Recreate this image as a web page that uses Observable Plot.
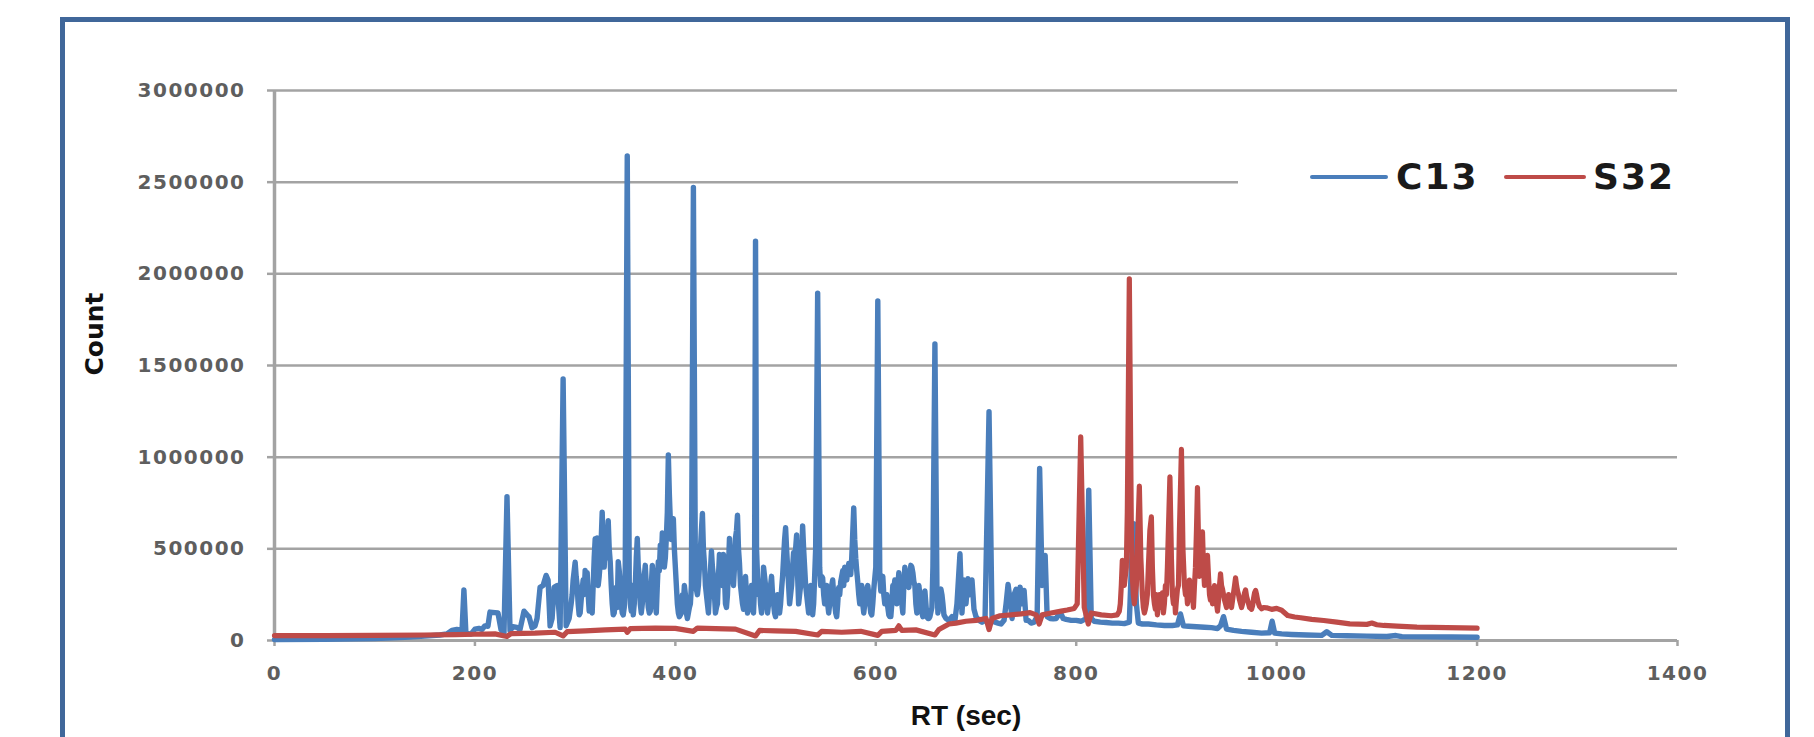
<!DOCTYPE html>
<html>
<head>
<meta charset="utf-8">
<script src="https://cdn.jsdelivr.net/npm/d3@7"></script>
<script src="https://cdn.jsdelivr.net/npm/@observablehq/plot@0.6"></script>
<style>
  html, body { margin: 0; padding: 0; width: 1814px; height: 737px; overflow: hidden; background: #fff; }
  #frame { position: absolute; left: 60px; top: 17px; width: 1720px; height: 800px;
           border: 5px solid #40679a; border-bottom: none; box-sizing: content-box; }
  #chart { position: absolute; left: 0; top: 0; }
  #chart g[aria-label="y-axis tick label"] text,
  #chart g[aria-label="x-axis tick label"] text { letter-spacing: 1.5px; }
  #legend { position: absolute; left: 1238px; top: 120px; width: 445px; height: 110px; background: #fff; }
  .sw { position: absolute; height: 4px; border-radius: 2px; }
  .lt { position: absolute; font-family: "DejaVu Sans", sans-serif; font-weight: bold; font-size: 36px;
        letter-spacing: 2px; color: #1a1a1a; line-height: 36px; }
</style>
</head>
<body>
<div id="frame"></div>
<div id="chart"></div>
<div id="legend">
  <div class="sw" style="left:72px; top:55px; width:78px; background:#4a7ebb;"></div>
  <div class="lt" style="left:158px; top:39px;">C13</div>
  <div class="sw" style="left:266px; top:55px; width:82px; background:#be4b48;"></div>
  <div class="lt" style="left:355px; top:39px;">S32</div>
</div>
<script>
// ---- tick labels ----
const xTicks = [0, 200, 400, 600, 800, 1000, 1200, 1400];
const yTicks = [0, 500000, 1000000, 1500000, 2000000, 2500000, 3000000];

// ---- C13 series: retention time (sec) ----
const rtC13 = [
  0,50,100,130,150,165,172,177,182,185,187,189,191,196,200,204,207,210,213,215,220,223,226,229,232,235,238,242,245,249,252,254,257,260,262,265,268,271,273,275,277,279,282,285,288,291,294,
  296,297,298,300,301,302,303,304,305,306,307,308,309,310,311,312,313,314,315,316,317,318,319,320,321,322,323,324,325,326,327,328,329,330,331,332,333,334,335,336,337,338,339,340,341,342,343,344,345,346,347,348,349,350,352,354,355,356,357,358,359,360,361,362,363,364,365,366,367,368,369,370,371,372,373,374,375,376,377,378,379,380,381,382,383,384,385,386,387,388,389,390,391,392,393,394,395,396,397,398,399,400,
  401,402,403,404,405,406,407,408,409,410,411,412,413,414,415,416,418,420,421,422,423,424,425,426,427,428,429,430,431,432,433,434,435,436,437,438,439,440,441,442,443,444,445,446,447,448,449,450,451,452,453,454,455,456,457,458,459,460,461,462,463,464,465,466,467,468,469,470,471,472,473,474,475,476,477,478,479,480,481,482,483,484,485,486,487,488,489,490,491,492,493,494,495,496,497,498,499,500,
  501,502,503,504,505,506,507,508,509,510,511,512,513,514,515,516,517,518,519,520,521,522,523,524,525,526,527,528,529,530,531,532,533,534,535,536,537,538,539,540,542,544,545,546,547,548,549,550,551,552,553,554,555,556,557,558,559,560,561,562,563,564,565,566,567,568,569,570,571,572,573,574,575,576,578,579,580,581,582,583,584,585,586,587,588,589,590,591,592,593,594,595,596,597,598,600,
  602,604,605,606,607,608,609,610,611,612,613,614,615,616,617,618,619,620,621,622,623,624,625,626,627,628,629,630,631,632,633,634,635,636,637,638,639,640,641,642,643,644,645,646,647,648,649,650,651,652,653,654,656,657,659,661,662,663,664,665,666,667,668,669,670,
  673,676,679,681,684,686,688,690,692,694,696,698,700,703,706,709,713,716,719,722,725,728,730,732,734,736,738,740,742,744,746,748,750,752,755,758,761,763.5,766,769,771,774,777,780,784,787,790,795,800,805,810,812.5,815,818,824,830,836,842,848,853,855,857.5,860,862,866,872,880,888,896,901,904,907,912,920,928,935,941,944,947,950,957,965,975,985,993,995.5,998,1005,1015,1030,1045,1050,1055,1070,1090,1110,1119,1125,1150,1175,1200];
// ---- C13 series: count ----
const countC13 = [
  5000,6000,10000,18000,24000,30000,36000,55000,60000,58000,40000,276000,40000,35000,62000,66000,60000,80000,78000,155000,152000,150000,60000,40000,785000,55000,75000,72000,60000,160000,140000,130000,70000,80000,120000,290000,300000,355000,330000,80000,120000,290000,300000,70000,1426000,80000,120000,
  200000,250000,330000,427000,350000,300000,200000,140000,150000,220000,280000,330000,250000,382000,300000,370000,250000,160000,160000,200000,150000,300000,450000,555000,400000,560000,300000,350000,420000,550000,700000,500000,400000,600000,450000,550000,654000,500000,430000,300000,200000,140000,150000,220000,290000,180000,430000,380000,300000,200000,150000,140000,180000,400000,2643000,300000,200000,160000,300000,140000,200000,300000,450000,557000,400000,350000,200000,150000,200000,300000,350000,410000,300000,250000,180000,150000,160000,300000,410000,350000,280000,200000,150000,300000,430000,380000,520000,450000,586000,500000,400000,450000,560000,700000,1012000,800000,650000,550000,600000,664000,500000,400000,
  300000,200000,150000,130000,140000,150000,250000,200000,300000,250000,150000,120000,150000,180000,200000,300000,2471000,350000,280000,250000,300000,400000,500000,600000,693000,500000,420000,300000,250000,200000,150000,250000,380000,488000,400000,350000,250000,150000,180000,200000,350000,469000,380000,420000,300000,470000,350000,200000,180000,250000,400000,557000,450000,400000,350000,300000,400000,560000,600000,683000,500000,420000,300000,250000,200000,170000,250000,350000,250000,150000,170000,200000,250000,300000,200000,150000,300000,2178000,500000,350000,250000,300000,200000,150000,250000,400000,350000,300000,200000,150000,200000,280000,300000,350000,250000,200000,150000,130000,
  200000,250000,200000,150000,200000,280000,350000,450000,550000,615000,500000,400000,300000,200000,250000,300000,400000,480000,400000,500000,576000,350000,200000,250000,300000,450000,625000,500000,400000,300000,250000,200000,150000,200000,300000,200000,140000,200000,350000,500000,1895000,400000,300000,350000,340000,250000,200000,250000,300000,200000,150000,200000,250000,300000,330000,250000,200000,150000,130000,200000,290000,250000,320000,350000,380000,300000,400000,350000,330000,380000,420000,400000,360000,450000,723000,550000,449000,380000,320000,250000,200000,250000,300000,200000,150000,200000,250000,280000,300000,250000,200000,150000,140000,200000,280000,400000,
  1852000,350000,270000,300000,350000,250000,200000,230000,250000,180000,140000,130000,130000,200000,300000,280000,330000,250000,200000,300000,370000,300000,330000,200000,150000,300000,400000,350000,380000,300000,290000,350000,410000,400000,370000,320000,300000,200000,150000,200000,300000,250000,180000,150000,130000,200000,270000,200000,130000,120000,120000,130000,180000,400000,1617000,300000,150000,200000,270000,280000,250000,200000,140000,130000,120000,
  110000,130000,110000,200000,473000,150000,330000,200000,337000,250000,330000,170000,130000,110000,100000,110000,1248000,120000,100000,95000,90000,110000,200000,306000,220000,120000,250000,280000,150000,291000,200000,273000,110000,110000,95000,100000,130000,938000,300000,464000,130000,120000,118000,120000,155000,120000,115000,110000,110000,105000,120000,820000,120000,105000,100000,98000,95000,95000,92000,100000,400000,637000,200000,95000,90000,90000,85000,82000,82000,85000,145000,80000,78000,75000,72000,70000,65000,80000,130000,62000,55000,50000,45000,40000,42000,105000,40000,36000,33000,30000,28000,48000,28000,26000,24000,22000,27000,21000,20000,19000,18000];

// ---- S32 series: retention time (sec) ----
const rtS32 = [
  0,50,100,150,180,200,220,232,236,260,280,288,292,310,330,350,352,355,380,400,418,422,440,460,480,484,500,520,542,546,566,585,602,606,620,623,626,640,659,663,673,680,690,700,710,713,716,724,735,745,754,760,763,766,775,785,791,798,801,804.5,808,812,815,825,835,841,
  843,844,845,846,847,848,849,850,851,853,855,856,857,858,859,860,861,863,864.5,866,867,868,869,870,871,872,873.5,875,876,877,878,879,880,881,882,883,884,885,886,887,888,889,890,891,892,893.5,895,896,897,898,899,900,901,902,903,905,906.5,908,909,910,911,912,913,914,915,916,917,918,919,920,921,922,923,924,925,926,927,928,929,930,931,932,933,934,935,936,937,938,939,940,941,942,943,944,945,946,947,948,949,950,951,952,953,954,955,956,957,958,959,960,961,962,963,964,965,966,967,968,969,970,971,972,973,974,975,976,977,978,979,980,981,982,983,985,987,990,
  995,1000,1005,1011,1018,1024,1035,1047,1060,1073,1090,1095,1100,1107,1120,1140,1170,1200];
// ---- S32 series: count ----
const countS32 = [
  27000,27000,28000,30000,32000,34000,36000,22000,38000,40000,45000,25000,48000,52000,58000,62000,45000,65000,68000,66000,50000,68000,65000,62000,25000,55000,52000,50000,30000,50000,45000,50000,28000,50000,55000,80000,55000,58000,30000,60000,90000,95000,105000,110000,120000,60000,120000,135000,140000,145000,152000,140000,90000,140000,150000,160000,166000,175000,200000,1111000,180000,90000,150000,140000,135000,140000,
  160000,200000,300000,437000,350000,300000,350000,400000,700000,1973000,600000,350000,250000,200000,250000,300000,500000,842000,450000,250000,180000,150000,170000,200000,250000,400000,600000,674000,400000,250000,200000,170000,250000,140000,200000,250000,180000,220000,260000,150000,200000,300000,250000,400000,600000,893000,450000,250000,200000,260000,150000,220000,280000,300000,600000,1042000,500000,300000,250000,280000,200000,250000,330000,300000,220000,250000,180000,300000,400000,600000,834000,550000,350000,400000,500000,592000,400000,300000,350000,420000,464000,350000,250000,220000,280000,200000,260000,300000,250000,200000,160000,220000,300000,364000,300000,280000,250000,220000,200000,180000,220000,250000,230000,200000,180000,220000,260000,300000,342000,300000,270000,250000,220000,200000,180000,200000,230000,260000,276000,240000,220000,200000,180000,175000,170000,190000,230000,260000,273000,250000,220000,200000,185000,173000,180000,178000,
  170000,175000,165000,136000,128000,124000,115000,109000,100000,91000,88000,95000,86000,82000,78000,73000,70000,67000];

const c13 = rtC13.map((rt, i) => ({rt, count: countC13[i]}));
const s32 = rtS32.map((rt, i) => ({rt, count: countS32[i]}));

const gray = "#a3a3a3";
const tickText = {fontFamily: "DejaVu Sans", fontSize: 20, fontWeight: "bold", fill: "#5e5e5e"};

const chart = Plot.plot({
  width: 1814,
  height: 737,
  marginLeft: 274,
  marginRight: 137,
  marginTop: 90,
  marginBottom: 97,
  style: {background: "transparent", overflow: "visible"},
  x: {domain: [0, 1400], label: null},
  y: {domain: [0, 3000000], label: null},
  marks: [
    Plot.gridY(yTicks, {stroke: gray, strokeOpacity: 1, strokeWidth: 2.5}),
    Plot.axisY(yTicks, {tickSize: 7, tickPadding: 22, stroke: gray, strokeWidth: 2.5,
      tickFormat: d => String(d), ...tickText}),
    Plot.axisX(xTicks, {tickSize: 6, tickPadding: 19, stroke: gray, strokeWidth: 2.5,
      tickFormat: d => String(d), ...tickText}),
    Plot.ruleX([0], {stroke: gray, strokeWidth: 3.5}),
    Plot.ruleY([0], {stroke: gray, strokeWidth: 3}),
    Plot.line(c13, {x: "rt", y: "count", stroke: "#4a7ebb", strokeWidth: 5.4, strokeLinejoin: "round"}),
    Plot.line(s32, {x: "rt", y: "count", stroke: "#be4b48", strokeWidth: 5.2, strokeLinejoin: "round"}),
    Plot.text(["RT (sec)"], {frameAnchor: "bottom", lineAnchor: "top", dy: 65, dx: -10,
      fontFamily: "Liberation Sans", fontWeight: "bold", fontSize: 28, fill: "#111"}),
    Plot.text(["Count"], {frameAnchor: "left", rotate: -90, dx: -180, dy: 10,
      fontFamily: "DejaVu Sans", fontWeight: "bold", fontSize: 25, fill: "#111"})
  ]
});
document.getElementById("chart").appendChild(chart);
</script>
</body>
</html>
